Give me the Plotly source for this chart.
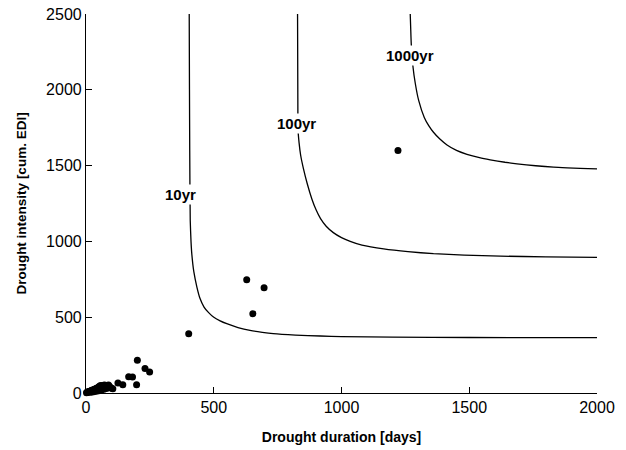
import plotly.graph_objects as go

# Observed droughts
dur = [2, 4, 6, 8, 10, 12, 15, 18, 20, 22, 25, 28, 30, 33, 35, 38, 40, 42, 45, 48,
       50, 52, 55, 58, 60, 62, 65, 68, 70, 72, 75, 78, 80, 85, 88, 90, 95, 100,
       60, 50, 40, 70, 80, 30, 20, 105,
       125, 144, 167, 182, 198, 201, 231, 249,
       402, 629, 653, 697, 1221]
inten = [2, 5, 3, 8, 6, 10, 12, 9, 15, 18, 14, 20, 22, 25, 18, 28, 30, 24, 35, 32,
         42, 28, 48, 38, 50, 42, 35, 48, 40, 52, 45, 38, 50, 42, 52, 46, 38, 32,
         20, 15, 12, 25, 30, 8, 5, 28,
         66, 55, 108, 105, 55, 216, 161, 139,
         391, 747, 523, 695, 1600]

# Return-period curves
c10_x = [404, 405, 406, 408, 411, 414, 422, 434, 446, 462, 480, 499, 525, 551, 595, 642, 690, 733, 820, 917, 1000, 1200, 1500, 2000]
c10_y = [2500, 2000, 1600, 1138, 1000, 919, 800, 699, 625, 567, 530, 501, 476, 457, 432, 413, 400, 391, 382, 376, 372, 368, 366, 365]
c100_x = [828, 829, 830, 834, 840, 851, 866, 884, 900, 918, 940, 968, 1000, 1034, 1080, 1165, 1260, 1360, 1480, 1622, 1800, 2000]
c100_y = [2500, 2000, 1732, 1650, 1570, 1480, 1380, 1280, 1210, 1150, 1100, 1058, 1025, 1000, 975, 950, 932, 919, 910, 903, 898, 895]
c1000_x = [1269, 1271, 1273, 1280, 1289, 1302, 1324, 1342, 1360, 1385, 1413, 1450, 1491, 1540, 1582, 1640, 1687, 1760, 1830, 2000]
c1000_y = [2500, 2400, 2303, 2149, 2040, 1930, 1818, 1762, 1720, 1675, 1636, 1600, 1574, 1552, 1538, 1522, 1512, 1499, 1490, 1478]

lab_text = ["10yr", "100yr", "1000yr"]
lab_x = [370, 824, 1268]
lab_y = [1310, 1781, 2223]

xticks = [0, 500, 1000, 1500, 2000]
yticks = [0, 500, 1000, 1500, 2000, 2500]

FONT = "Liberation Sans, Arial, Helvetica"

fig = go.Figure()
for cx, cy in [(c10_x, c10_y), (c100_x, c100_y), (c1000_x, c1000_y)]:
    fig.add_trace(go.Scatter(x=cx, y=cy, mode="lines",
                             line=dict(color="black", width=1.3, shape="spline", smoothing=0.5),
                             showlegend=False, hoverinfo="skip"))
fig.add_trace(go.Scatter(x=dur, y=inten, mode="markers", marker=dict(color="black", size=7),
                         showlegend=False, cliponaxis=False))

for t, x, y in zip(lab_text, lab_x, lab_y):
    fig.add_annotation(x=x, y=y, text="<b>%s</b>" % t, showarrow=False, bgcolor="white",
                       font=dict(family=FONT, size=15, color="black"), borderpad=1)

axis_common = dict(showline=True, linecolor="black", linewidth=1.2, ticks="inside", ticklen=6,
                   tickcolor="black", showgrid=False, zeroline=False, mirror=False, automargin=False,
                   tickfont=dict(family=FONT, size=16, color="black"))
fig.update_xaxes(range=[0, 2000], tickvals=xticks, ticktext=[str(v) for v in xticks],
                 title=dict(text="<b>Drought duration [days]</b>", font=dict(family=FONT, size=14, color="black"), standoff=16),
                 **axis_common)
fig.update_yaxes(range=[0, 2500], tickvals=yticks, ticktext=[str(v) for v in yticks],
                 title=dict(text="<b>Drought intensity [cum. EDI]</b>", font=dict(family=FONT, size=13.5, color="black"), standoff=16),
                 **axis_common)
fig.update_layout(width=626, height=450, margin=dict(l=86, r=29, t=14, b=57),
                  plot_bgcolor="white", paper_bgcolor="white")
fig.write_html("out.html")
